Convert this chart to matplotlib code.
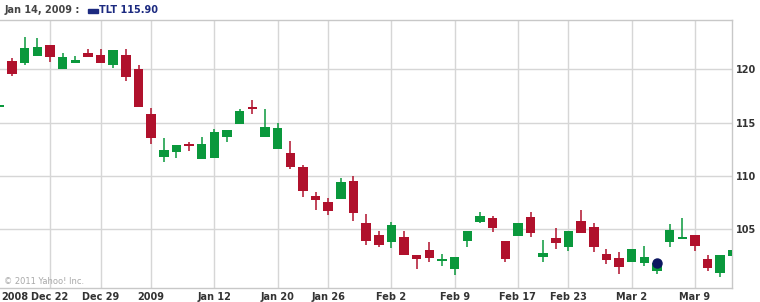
import matplotlib.pyplot as plt
import pandas as pd

# trading days shown on the chart (Dec 16 2008 .. Mar 12 2009)
holidays = ["2008-12-25", "2009-01-01", "2009-01-19", "2009-02-16"]
days = pd.bdate_range("2008-12-16", "2009-03-12").drop(pd.to_datetime(holidays))

opens = [116.50, 120.78, 120.62, 121.28, 122.28, 120.03, 120.62, 121.56, 121.37, 120.43,
         121.34, 120.00, 115.77, 111.79, 112.21, 112.85, 111.58, 111.70, 113.67, 114.84,
         116.33, 113.62, 112.49, 112.17, 110.80, 108.10, 107.51, 107.85, 109.51, 105.60,
         104.41, 103.81, 104.25, 102.56, 103.03, 102.00, 101.28, 103.91, 105.69, 106.00,
         103.88, 104.38, 106.16, 102.41, 104.19, 103.34, 105.76, 105.16, 102.66, 102.25,
         101.88, 101.85, 101.09, 103.81, 104.10, 104.44, 102.16, 100.84, 102.47]
highs = [116.60, 121.09, 123.00, 122.91, 122.28, 121.50, 121.25, 121.91, 121.91, 121.81,
         121.88, 120.40, 116.40, 113.58, 112.89, 113.20, 113.67, 114.37, 114.30, 116.27,
         117.12, 116.27, 114.93, 113.27, 111.01, 108.45, 107.89, 109.77, 109.98, 106.38,
         104.85, 105.69, 104.85, 102.56, 103.81, 102.63, 102.35, 104.82, 106.63, 106.25,
         103.88, 105.60, 106.63, 103.97, 105.07, 104.82, 106.79, 105.54, 103.09, 102.87,
         103.10, 103.44, 101.78, 105.47, 106.07, 104.44, 102.56, 102.56, 103.81]
lows = [116.40, 119.37, 120.43, 121.28, 120.71, 120.03, 120.62, 121.18, 120.62, 120.15,
        118.90, 116.49, 112.96, 111.27, 111.70, 112.33, 111.58, 111.70, 113.20, 114.84,
        115.80, 113.62, 112.49, 110.64, 108.04, 106.79, 106.32, 107.85, 105.76, 103.50,
        103.34, 103.25, 102.56, 101.28, 101.93, 101.56, 100.66, 103.34, 105.60, 104.75,
        101.93, 104.38, 104.28, 101.93, 103.12, 102.94, 104.66, 102.87, 101.72, 100.78,
        101.88, 101.56, 100.78, 103.34, 104.04, 102.97, 101.09, 100.53, 102.10]
closes = [116.55, 119.56, 121.97, 122.07, 121.18, 121.13, 120.87, 121.18, 120.62, 121.81,
          119.31, 116.49, 113.58, 112.42, 112.89, 112.80, 112.99, 114.14, 114.30, 116.08,
          116.27, 114.55, 114.46, 110.85, 108.60, 107.73, 106.72, 109.39, 106.54, 103.91,
          103.50, 105.38, 102.56, 102.19, 102.25, 102.06, 102.35, 104.82, 106.22, 105.13,
          102.16, 105.60, 104.60, 102.72, 103.72, 104.82, 104.66, 103.34, 102.10, 101.47,
          103.10, 102.35, 101.78, 104.91, 104.15, 103.44, 101.31, 102.56, 103.03]

tick_dates = ["2008-12-22", "2008-12-29", "2009-01-05", "2009-01-12", "2009-01-20",
              "2009-01-26", "2009-02-02", "2009-02-09", "2009-02-17", "2009-02-23", "2009-03-02",
              "2009-03-09"]
tick_labels = ["Dec 22", "Dec 29", "2009", "Jan 12", "Jan 20", "Jan 26", "Feb 2",
               "Feb 9", "Feb 17", "Feb 23", "Mar 2", "Mar 9"]
first_label = "2008"
y_ticks = [105, 110, 115, 120]
marker_date = "2009-03-04"
marker_price = 101.84
header_date = "Jan 14, 2009 :"
header_quote = "TLT 115.90"

red = "#b0112c"
green = "#0a983c"
grid = "#d6d6d6"
label_col = "#333333"

fig = plt.figure(figsize=(7.6, 3.02), dpi=100)
ax = fig.add_axes([0, 13.7 / 302, 732 / 760, 268.3 / 302])

x = list(range(len(days)))
colors = [green if c >= o else red for o, c in zip(opens, closes)]
bottoms = [min(o, c) for o, c in zip(opens, closes)]
heights = [max(abs(c - o), 0.18) for o, c in zip(opens, closes)]

ax.vlines(x, lows, highs, color=colors, lw=1.1, zorder=3)
ax.bar(x, heights, bottom=bottoms, width=0.75, color=colors, zorder=4)

pos = [days.get_loc(pd.Timestamp(d)) for d in tick_dates]
for p in pos:
    ax.axvline(p, color=grid, lw=1, zorder=1)
for t in y_ticks:
    ax.axhline(t, color=grid, lw=1, zorder=1)

m = days.get_loc(pd.Timestamp(marker_date))
ax.plot([m], [marker_price], "o", color="#0b1660", markersize=6.5, zorder=5)

ax.set_xlim(0.047, 57.93)
ax.set_ylim(99.43, 124.63)

ax.set_xticks(pos, tick_labels, fontweight="bold")
ax.yaxis.tick_right()
ax.set_yticks(y_ticks, [str(t) for t in y_ticks], fontweight="bold")
ax.tick_params(length=0, labelsize=7, labelcolor=label_col)
ax.tick_params(axis="x", pad=3)
ax.tick_params(axis="y", pad=3)

ax.spines["left"].set_visible(False)
for s in ["top", "bottom", "right"]:
    ax.spines[s].set_color("#c8c8c8")
    ax.spines[s].set_linewidth(1)

# year label that sits at the very left edge, partly hidden in the original
fig.text(1 / 760, 1 - 292.5 / 302, first_label, fontsize=7, fontweight="bold",
         color=label_col, va="top", ha="left")

fig.text(5 / 760, 1 - 10 / 302, header_date, fontsize=7, fontweight="bold",
         color="#444444", va="center")
fig.add_artist(plt.Rectangle((88 / 760, 1 - 13 / 302), 10 / 760, 4 / 302,
                             transform=fig.transFigure, color="#1c2a80"))
fig.text(99 / 760, 1 - 10 / 302, header_quote, fontsize=7, fontweight="bold",
         color="#1c2a80", va="center")
fig.text(4 / 760, 1 - 281 / 302, "\u00a9 2011 Yahoo! Inc.", fontsize=6,
         color="#a8a8a8", va="center")

fig.savefig("out.png", dpi=100, facecolor="white")
